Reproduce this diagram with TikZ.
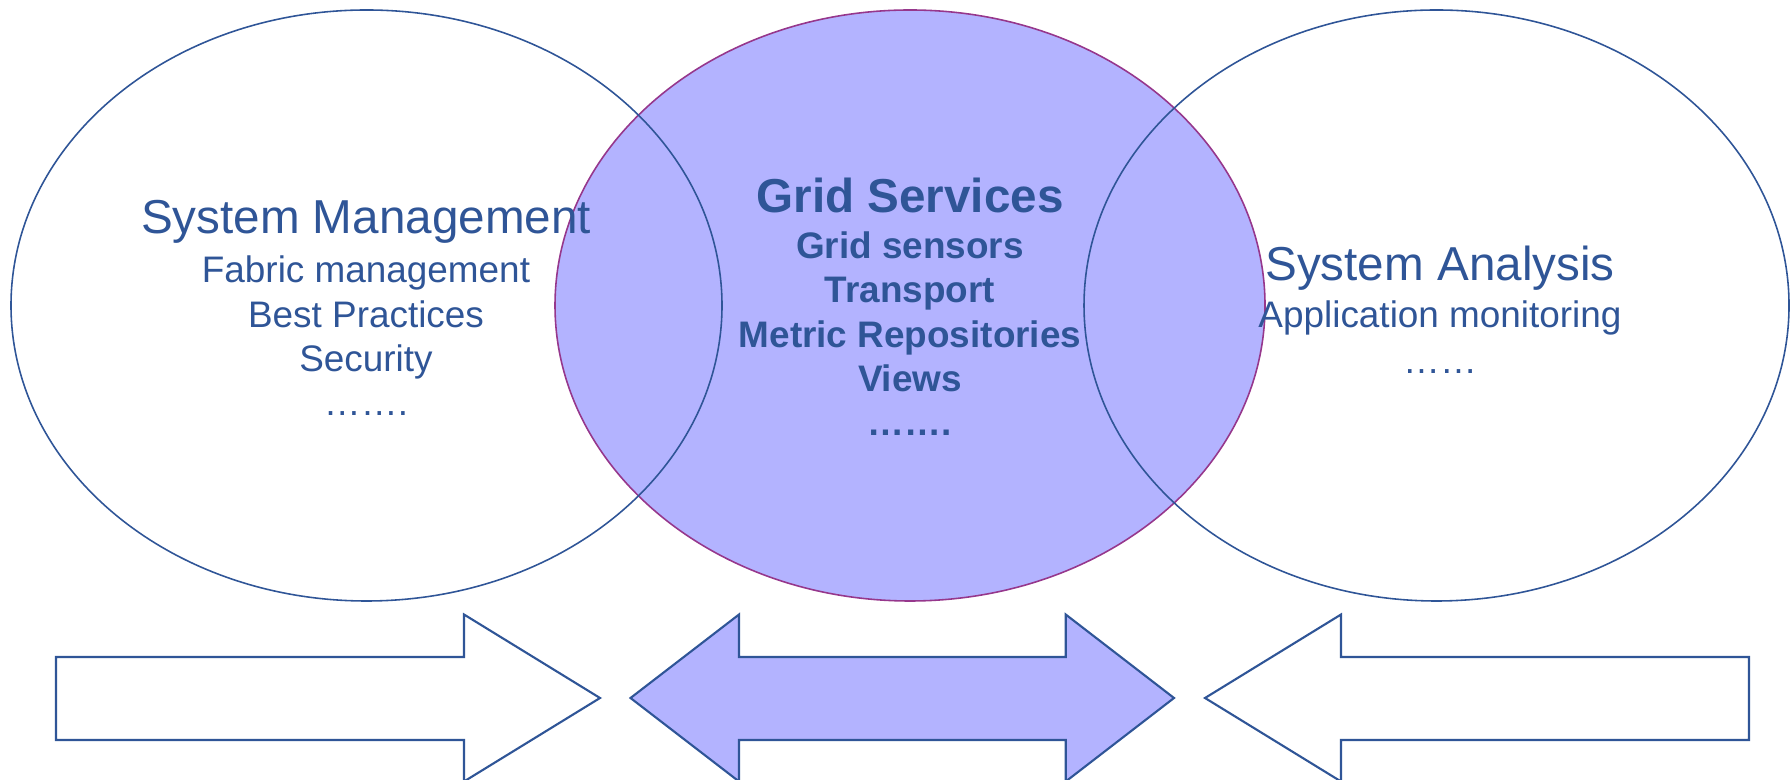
\documentclass[tikz,border=0pt]{standalone}
\usepackage{fontspec}
\setmainfont{Liberation Sans}
\definecolor{lineblue}{RGB}{47,85,151}
\definecolor{gridfill}{RGB}{179,179,255}
\definecolor{gridrim}{RGB}{150,55,140}

\tikzset{
  arealine/.style={draw=lineblue, line width=0.45pt},
  bigarrow/.style={draw=lineblue, line width=0.6pt, line join=miter},
  headtxt/.style={text=lineblue, anchor=base, inner sep=0pt, font=\fontsize{13.55}{16}\selectfont},
  subtxt/.style={text=lineblue, anchor=base, inner sep=0pt, font=\fontsize{10.5}{12.6}\selectfont},
}

\begin{document}
\begin{tikzpicture}
			\useasboundingbox (0,0) rectangle (17.91,7.80);
			
			%%%%% ellipses %%%%%
			\draw[fill=gridfill, draw=gridrim, line width=0.45pt] (9.10,4.745) ellipse (3.55 and 2.955);
			\draw[arealine] (3.665,4.745) ellipse (3.555 and 2.955);
			\draw[arealine] (14.365,4.745) ellipse (3.525 and 2.955);
			
			%%%%% arrows %%%%%
			\draw[bigarrow, fill=white] (0.56,1.23) -- (4.64,1.23) -- (4.64,1.655) -- (6.00,0.82) -- (4.64,-0.015) -- (4.64,0.40) -- (0.56,0.40) -- cycle;
			\draw[bigarrow, fill=gridfill] (6.305,0.82) -- (7.39,1.655) -- (7.39,1.23) -- (10.657,1.23) -- (10.657,1.655) -- (11.74,0.82) -- (10.657,-0.015) -- (10.657,0.40) -- (7.39,0.40) -- (7.39,-0.015) -- cycle;
			\draw[bigarrow, fill=white] (17.49,1.23) -- (13.41,1.23) -- (13.41,1.655) -- (12.05,0.82) -- (13.41,-0.015) -- (13.41,0.40) -- (17.49,0.40) -- cycle;
			
			%%%%% texts %%%%%
			\node[headtxt] (sysman) at (3.66,5.46) {System Management};
			\foreach \t [count=\i] in {Fabric management, Best Practices, Security, …….}
				\node[subtxt] (sysman\i) at (3.66,{4.973-0.444*(\i-1)}) {\t};
			
			\node[headtxt, font=\fontsize{13.55}{16}\selectfont\bfseries] (grid) at (9.10,5.673) {Grid Services};
			\foreach \t [count=\i] in {Grid sensors, Transport, Metric Repositories, Views, …….}
				\node[subtxt, font=\fontsize{10.5}{12.6}\selectfont\bfseries] (grid\i) at (9.10,{5.217-0.444*(\i-1)}) {\t};
			
			\node[headtxt] (sysana) at (14.40,4.99) {System Analysis};
			\foreach \t [count=\i] in {Application monitoring, ……}
				\node[subtxt] (sysana\i) at (14.40,{4.52-0.455*(\i-1)}) {\t};
\end{tikzpicture}
\end{document}
